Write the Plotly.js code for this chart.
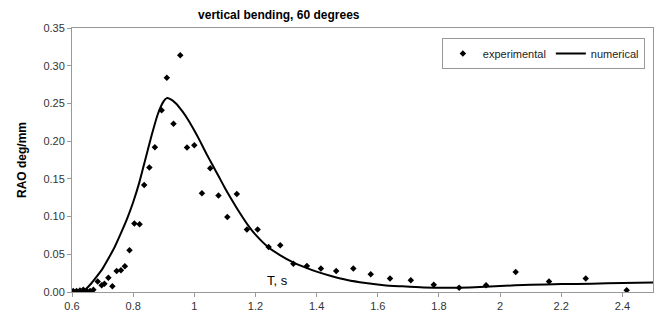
<!DOCTYPE html>
<html>
<head>
<meta charset="utf-8">
<script src="https://cdn.plot.ly/plotly-3.0.1.min.js"></script>
<style>html,body{margin:0;padding:0;background:#fff;}#chart{width:656px;height:320px;}</style>
</head>
<body>
<div id="chart"></div>
<script>
// experimental points
var expT = [0.604, 0.615, 0.626, 0.637, 0.648, 0.659, 0.670, 0.684, 0.697, 0.706, 0.719, 0.732, 0.746, 0.760, 0.773, 0.788, 0.804, 0.821, 0.836, 0.853, 0.871, 0.893, 0.910, 0.932, 0.954, 0.976, 1.000, 1.025, 1.052, 1.079, 1.108, 1.139, 1.172, 1.207, 1.243, 1.281, 1.324, 1.368, 1.414, 1.464, 1.520, 1.577, 1.640, 1.708, 1.783, 1.866, 1.954, 2.051, 2.160, 2.280, 2.414];
var expRAO = [0.0013, 0.0013, 0.002, 0.003, 0.0013, 0.0013, 0.003, 0.0138, 0.009, 0.011, 0.019, 0.0076, 0.028, 0.029, 0.034, 0.0553, 0.0907, 0.0898, 0.142, 0.165, 0.192, 0.241, 0.284, 0.223, 0.314, 0.1915, 0.1945, 0.131, 0.164, 0.128, 0.0995, 0.130, 0.0827, 0.0827, 0.0597, 0.062, 0.0376, 0.0345, 0.031, 0.028, 0.031, 0.0235, 0.0178, 0.0155, 0.0095, 0.0058, 0.0089, 0.0265, 0.0138, 0.0178, 0.0023];
// numerical curve
var numT = [0.60, 0.62, 0.64, 0.66, 0.68, 0.70, 0.72, 0.74, 0.76, 0.78, 0.80, 0.82, 0.84, 0.86, 0.88, 0.90, 0.91, 0.92, 0.94, 0.96, 0.98, 1.00, 1.02, 1.04, 1.06, 1.08, 1.10, 1.12, 1.15, 1.18, 1.20, 1.24, 1.28, 1.32, 1.36, 1.40, 1.45, 1.50, 1.56, 1.62, 1.68, 1.75, 1.82, 1.90, 2.00, 2.10, 2.20, 2.30, 2.40, 2.50];
var numRAO = [0, 0, 0.002, 0.010, 0.020, 0.031, 0.045, 0.060, 0.078, 0.097, 0.119, 0.145, 0.176, 0.207, 0.235, 0.253, 0.257, 0.256, 0.250, 0.240, 0.228, 0.214, 0.199, 0.183, 0.168, 0.153, 0.138, 0.124, 0.104, 0.086, 0.076, 0.060, 0.049, 0.040, 0.033, 0.027, 0.021, 0.016, 0.012, 0.009, 0.0075, 0.006, 0.0055, 0.006, 0.008, 0.0095, 0.0105, 0.011, 0.012, 0.0125];
var xTicks = [0.6, 0.8, 1, 1.2, 1.4, 1.6, 1.8, 2, 2.2, 2.4];
var yTicks = [0, 0.05, 0.10, 0.15, 0.20, 0.25, 0.30, 0.35];

var font = 'Liberation Sans, Arial, sans-serif';
var traces = [
  {x: expT, y: expRAO, mode: 'markers', type: 'scatter', name: 'experimental',
   marker: {symbol: 'diamond', size: 5, color: '#000'}},
  {x: numT, y: numRAO, mode: 'lines', type: 'scatter', name: 'numerical',
   line: {color: '#000', width: 2, shape: 'spline', smoothing: 0.6}}
];
var layout = {
  width: 656, height: 320,
  margin: {l: 72, r: 3, t: 28, b: 28},
  paper_bgcolor: '#fff', plot_bgcolor: '#fff',
  font: {family: font, size: 11, color: '#222'},
  title: {text: '<b>vertical bending, 60 degrees</b>', font: {family: font, size: 12, color: '#000'},
          xref: 'container', x: 0.425, xanchor: 'center', yref: 'container', y: 0.953, yanchor: 'middle'},
  xaxis: {range: [0.6, 2.5], tickvals: xTicks, ticktext: xTicks.map(String),
          showgrid: false, zeroline: false, showline: true, mirror: true,
          linecolor: '#999', linewidth: 1, ticks: 'outside', ticklen: 4, tickcolor: '#999',
          tickfont: {family: font, size: 11, color: '#333'}},
  yaxis: {range: [0, 0.35], tickvals: yTicks, tickformat: '.2f',
          showgrid: false, zeroline: false, showline: true, mirror: true,
          linecolor: '#999', linewidth: 1, ticks: 'outside', ticklen: 4, tickcolor: '#999',
          tickfont: {family: font, size: 11, color: '#333'},
          title: {text: '<b>RAO deg/mm</b>', font: {family: font, size: 12, color: '#000'}, standoff: 14}},
  showlegend: true,
  legend: {orientation: 'h', x: 0.986, y: 0.962, xanchor: 'right', yanchor: 'top',
           bordercolor: '#999', borderwidth: 1, bgcolor: '#fff',
           font: {family: font, size: 11, color: '#222'}, itemwidth: 30, tracegroupgap: 0},
  annotations: [{x: 1.271, y: 0.0155, xref: 'x', yref: 'y', text: 'T, s', showarrow: false,
                 font: {family: font, size: 13, color: '#000'}}]
};
Plotly.newPlot('chart', traces, layout, {staticPlot: true, displayModeBar: false});
</script>
</body>
</html>
